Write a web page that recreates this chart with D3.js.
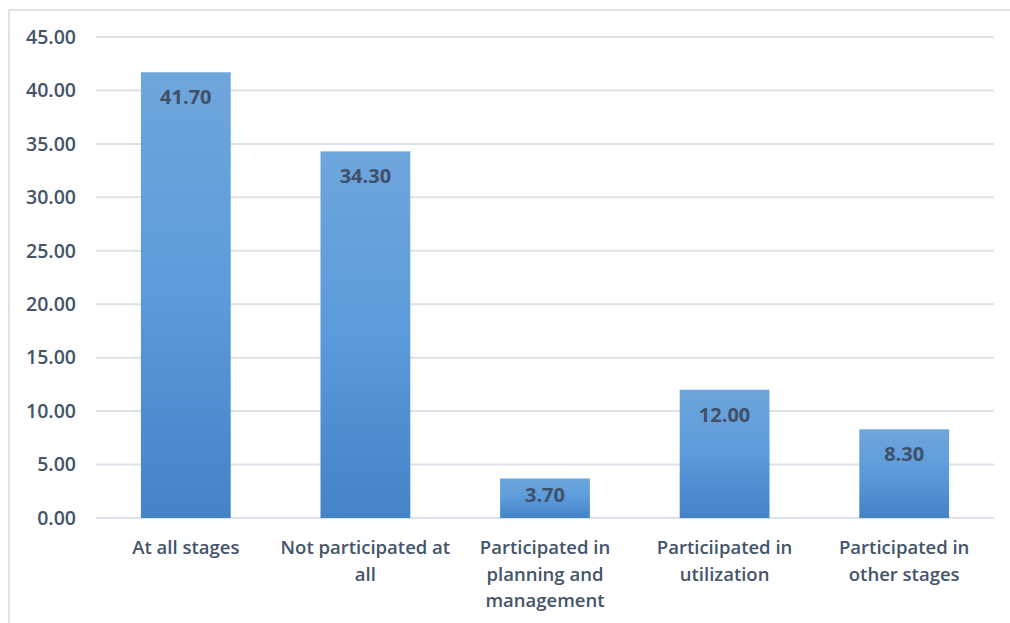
<!DOCTYPE html>
<html>
<head>
<meta charset="utf-8">
<script src="https://cdn.jsdelivr.net/npm/d3@7"></script>
<style>
  body { margin: 0; background: #fff; }
  svg { display: block; }
  text { font-family: "Open Sans", "Noto Sans", sans-serif; }
</style>
</head>
<body>
<svg id="chart" width="1010" height="623"></svg>
<script>
const categories = [
  ["At all stages"],
  ["Not participated at", "all"],
  ["Participated in", "planning and", "management"],
  ["Particiipated in", "utilization"],
  ["Participated in", "other stages"]
];
const values = [41.70, 34.30, 3.70, 12.00, 8.30];
const yTicks = [0, 5, 10, 15, 20, 25, 30, 35, 40, 45];

const svg = d3.select('#chart');
const textColor = '#44546a';

// chart frame
svg.append('rect')
    .attr('x', 9).attr('y', 10)
    .attr('width', 1010).attr('height', 623)
    .attr('fill', 'none')
    .attr('stroke', '#dfe2e8')
    .attr('stroke-width', 2);

const margin = { left: 96, right: 16, top: 37, bottom: 105 };
const width = 1010, height = 623;

const x = d3.scaleBand()
    .domain(d3.range(values.length))
    .range([margin.left, width - margin.right])
    .paddingInner(0.5)
    .paddingOuter(0.25);

const y = d3.scaleLinear()
    .domain([0, 45])
    .range([height - margin.bottom, margin.top]);

// gradient fill for bars
const grad = svg.append('defs').append('linearGradient')
    .attr('id', 'barGrad')
    .attr('x1', 0).attr('y1', 0).attr('x2', 0).attr('y2', 1);
grad.append('stop').attr('offset', '0%').attr('stop-color', '#6fa6dc');
grad.append('stop').attr('offset', '50%').attr('stop-color', '#5b9bdb');
grad.append('stop').attr('offset', '100%').attr('stop-color', '#4383c6');

// gridlines
svg.append('g')
    .selectAll('line')
    .data(yTicks)
    .join('line')
    .attr('x1', margin.left)
    .attr('x2', width - margin.right)
    .attr('y1', d => y(d))
    .attr('y2', d => y(d))
    .attr('stroke', '#dde1e9')
    .attr('stroke-width', 2);

// y axis labels
const yAxis = svg.append('g')
    .attr('transform', `translate(${margin.left - 20},0)`)
    .call(d3.axisLeft(y).tickValues(yTicks).tickFormat(d3.format('.2f')).tickSize(0).tickPadding(0));
yAxis.select('.domain').remove();
yAxis.selectAll('text')
    .attr('fill', textColor)
    .attr('font-size', 19.5)
    .attr('font-weight', 600)
    .style('font-family', '"Open Sans", sans-serif');

// bars
svg.append('g')
    .selectAll('rect')
    .data(values)
    .join('rect')
    .attr('x', (d, i) => x(i))
    .attr('y', d => y(d))
    .attr('width', x.bandwidth())
    .attr('height', d => y(0) - y(d))
    .attr('fill', 'url(#barGrad)');

// value labels (inside end, pulled up on short bars)
svg.append('g')
    .selectAll('text')
    .data(values)
    .join('text')
    .attr('x', (d, i) => x(i) + x.bandwidth() / 2)
    .attr('y', d => Math.min(y(d) + 32, y(0) - 16))
    .attr('text-anchor', 'middle')
    .attr('fill', '#3f5068')
    .attr('font-size', 20)
    .attr('font-weight', 700)
    .text(d => d3.format('.2f')(d));

// category labels
const catG = svg.append('g')
    .selectAll('text')
    .data(categories)
    .join('text')
    .attr('x', (d, i) => x(i) + x.bandwidth() / 2)
    .attr('y', y(0) + 36)
    .attr('text-anchor', 'middle')
    .attr('fill', textColor)
    .attr('font-size', 18.5)
    .attr('font-weight', 600);

catG.selectAll('tspan')
    .data(d => d)
    .join('tspan')
    .attr('x', function () { return d3.select(this.parentNode).attr('x'); })
    .attr('dy', (d, i) => i === 0 ? 0 : 26.5)
    .text(d => d);
</script>
</body>
</html>
